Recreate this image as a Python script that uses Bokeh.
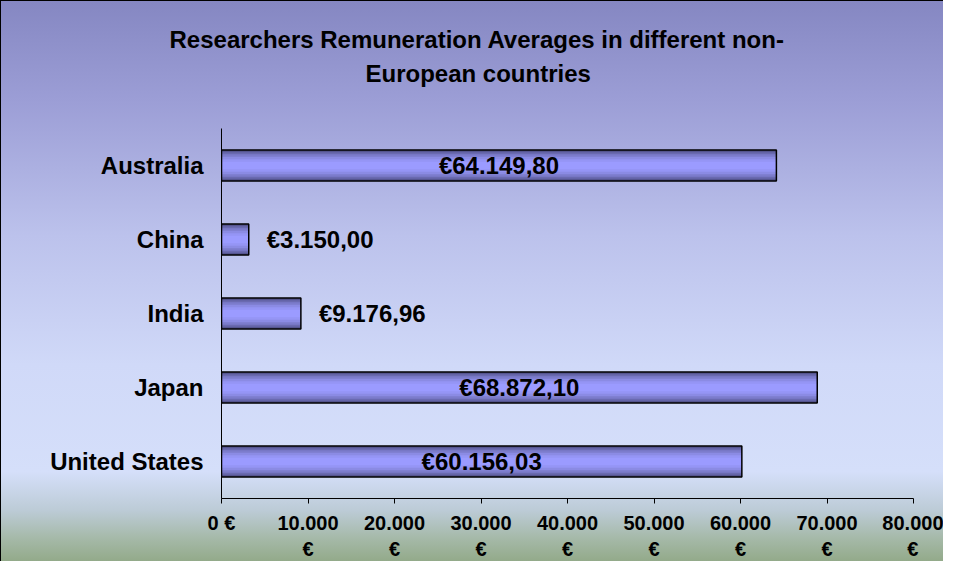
from bokeh.plotting import figure
from bokeh.models import ColumnDataSource, Range1d, FactorRange, FixedTicker, Title
from bokeh.core.properties import value
from bokeh.embed import file_html
from bokeh.resources import INLINE

# ---- data ----
countries = ["Australia", "China", "India", "Japan", "United States"]
remuneration = [64149.80, 3150.00, 9176.96, 68872.10, 60156.03]
tick_values = [0, 10000, 20000, 30000, 40000, 50000, 60000, 70000, 80000]
tick_labels = ["0 €", "10.000\n€", "20.000\n€", "30.000\n€", "40.000\n€",
               "50.000\n€", "60.000\n€", "70.000\n€", "80.000\n€"]
title_line1 = "Researchers Remuneration Averages in different non-"
title_line2 = "European countries"


def euro(v):
    s = f"{v:,.2f}"
    s = s.replace(",", "X").replace(".", ",").replace("X", ".")
    return "€" + s


labels = [euro(v) for v in remuneration]

FONT = "Liberation Sans"
W, H = 943, 561

p = figure(width=W, height=H, output_backend="svg", toolbar_location=None,
           y_range=FactorRange(factors=list(reversed(countries))),
           x_range=Range1d(0, 80000),
           min_border_left=220, min_border_right=31,
           min_border_top=127, min_border_bottom=60)

p.styles = {
    "background-image": "linear-gradient(to bottom, #8587c2 0%, #9c9ed6 18%, #bcc2ec 42%, #d0d9f8 65%, #d5dffa 84%, #bccbd6 91%, #a5b9a8 96%, #93aa8a 100%)",
    "border-left": "1px solid black",
    "border-top": "1px solid black",
}
p.border_fill_color = None
p.background_fill_color = None
p.outline_line_color = None
p.xgrid.grid_line_color = None
p.ygrid.grid_line_color = None

# title: two separately centred lines plus a blank spacer above the frame
title_kw = dict(text_font=FONT, text_font_style="bold", text_font_size="24px",
                text_color="black", align="left")
p.title.text = title_line1
p.title.offset = -52
p.title.standoff = 6
p.title.text_font = FONT
p.title.text_font_style = "bold"
p.title.text_font_size = "24px"
p.title.text_color = "black"
p.title.align = "left"
p.add_layout(Title(text=" ", standoff=11, **title_kw), "above")
p.add_layout(Title(text=title_line2, offset=144, standoff=4, **title_kw), "above")

src = ColumnDataSource(dict(country=countries, value=remuneration, label=labels))

# bars with shaded layers to mimic gradient
bar_h = 0.42
layers = [(1.0, "#55558f"), (0.86, "#6a6ab0"), (0.72, "#7c7ccc"),
          (0.56, "#8b8be4"), (0.40, "#9595f5"), (0.24, "#9b9bff")]
for frac, col in layers:
    p.hbar(y="country", right="value", left=0, height=bar_h * frac, source=src,
           fill_color=col, line_color=None)
p.hbar(y="country", right="value", left=0, height=bar_h, source=src,
       fill_color=None, line_color="black", line_width=1.5)

# data labels
big = [i for i, v in enumerate(remuneration) if v > 20000]
small = [i for i, v in enumerate(remuneration) if v <= 20000]
src_big = ColumnDataSource(dict(country=[countries[i] for i in big],
                                x=[remuneration[i] / 2 for i in big],
                                label=[labels[i] for i in big]))
src_small = ColumnDataSource(dict(country=[countries[i] for i in small],
                                  x=[remuneration[i] for i in small],
                                  label=[labels[i] for i in small]))
p.text(x="x", y="country", text="label", source=src_big, text_align="center",
       text_baseline="middle", text_font=value(FONT), text_font_style="bold",
       text_font_size="24px", text_color="black")
p.text(x="x", y="country", text="label", source=src_small, text_align="left",
       text_baseline="middle", x_offset=18, text_font=value(FONT),
       text_font_style="bold", text_font_size="24px", text_color="black")

# x axis
xa = p.xaxis[0]
xa.ticker = FixedTicker(ticks=tick_values)
xa.major_label_overrides = {t: l for t, l in zip(tick_values, tick_labels)}
xa.minor_tick_line_color = None
xa.major_tick_in = 0
xa.major_tick_out = 5
xa.axis_line_color = "black"
xa.major_tick_line_color = "black"
xa.major_label_text_font = FONT
xa.major_label_text_font_style = "bold"
xa.major_label_text_font_size = "20px"
xa.major_label_text_color = "black"
xa.major_label_standoff = 8

# y axis
ya = p.yaxis[0]
ya.major_tick_line_color = None
ya.minor_tick_line_color = None
ya.major_tick_out = 0
ya.major_tick_in = 0
ya.axis_line_color = "black"
ya.major_label_text_font = FONT
ya.major_label_text_font_style = "bold"
ya.major_label_text_font_size = "24px"
ya.major_label_text_color = "black"
ya.major_label_standoff = 18

open("out.html", "w").write(file_html(p, INLINE))
